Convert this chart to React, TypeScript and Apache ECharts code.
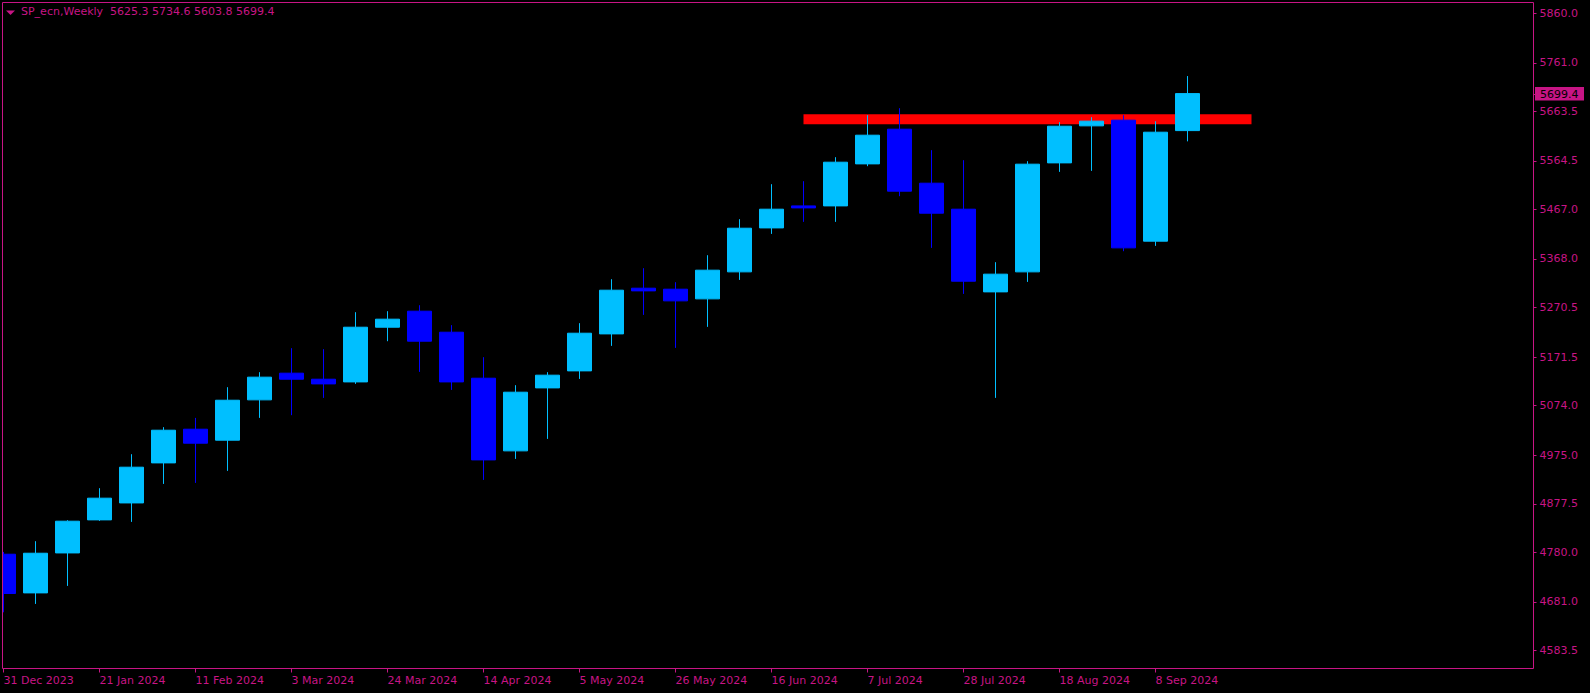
import React, { useEffect, useRef } from "react";
import * as echarts from "echarts";

// ---- data ----
const symbolName = "SP_ecn,Weekly";
const dates = [
  "31 Dec 2023", "7 Jan 2024", "14 Jan 2024", "21 Jan 2024", "28 Jan 2024",
  "4 Feb 2024", "11 Feb 2024", "18 Feb 2024", "25 Feb 2024", "3 Mar 2024",
  "10 Mar 2024", "17 Mar 2024", "24 Mar 2024", "31 Mar 2024", "7 Apr 2024",
  "14 Apr 2024", "21 Apr 2024", "28 Apr 2024", "5 May 2024", "12 May 2024",
  "19 May 2024", "26 May 2024", "2 Jun 2024", "9 Jun 2024", "16 Jun 2024",
  "23 Jun 2024", "30 Jun 2024", "7 Jul 2024", "14 Jul 2024", "21 Jul 2024",
  "28 Jul 2024", "4 Aug 2024", "11 Aug 2024", "18 Aug 2024", "25 Aug 2024",
  "1 Sep 2024", "8 Sep 2024", "15 Sep 2024",
];
const opens = [
  4776.4, 4698.9, 4779.0, 4845.2, 4879.2, 4959.4, 5026.9, 5004.9, 5085.7, 5139.2,
  5127.1, 5121.7, 5231.3, 5263.4, 5221.3, 5129.1, 4983.5, 5109.7, 5143.8, 5217.9,
  5309.5, 5307.5, 5288.1, 5342.2, 5430.3, 5474.4, 5474.4, 5558.6, 5628.1, 5519.9,
  5467.8, 5302.1, 5342.2, 5560.6, 5634.8, 5646.2, 5403.7, 5625.3,
];
const highs = [
  4781.0, 4802.5, 4844.6, 4908.7, 4976.8, 5031.0, 5049.6, 5111.1, 5141.2, 5189.3,
  5187.3, 5261.4, 5263.4, 5275.4, 5235.4, 5171.2, 5115.1, 5141.2, 5239.4, 5327.5,
  5349.6, 5321.5, 5375.6, 5447.8, 5517.9, 5523.9, 5572.0, 5656.2, 5670.2, 5586.1,
  5566.0, 5361.6, 5564.0, 5642.2, 5652.2, 5656.2, 5644.0, 5734.6,
];
const lows = [
  4660.0, 4676.8, 4712.9, 4843.2, 4841.2, 4917.3, 4919.3, 4943.4, 5049.6, 5055.0,
  5089.7, 5117.7, 5203.3, 5141.8, 5105.7, 4925.3, 4967.4, 5007.5, 5127.7, 5193.9,
  5256.0, 5189.9, 5232.0, 5326.1, 5418.3, 5442.4, 5442.4, 5554.0, 5493.9, 5390.3,
  5298.1, 5089.7, 5322.1, 5542.6, 5544.6, 5383.6, 5394.3, 5603.8,
];
const closes = [
  4697.7, 4778.4, 4842.6, 4888.7, 4950.8, 5024.9, 4998.9, 5085.0, 5131.2, 5127.1,
  5117.7, 5231.3, 5247.4, 5203.3, 5121.7, 4965.4, 5101.1, 5135.2, 5219.3, 5305.5,
  5304.1, 5284.1, 5345.6, 5429.7, 5467.8, 5470.4, 5562.0, 5616.1, 5503.9, 5459.8,
  5323.5, 5337.6, 5558.0, 5634.1, 5644.2, 5390.3, 5622.1, 5699.4,
];
const yTicks = [
  5860.0, 5761.0, 5663.5, 5564.5, 5467.0, 5368.0, 5270.5, 5171.5,
  5074.0, 4975.0, 4877.5, 4780.0, 4681.0, 4583.5,
];
const resistanceLevel = 5648.2;
const resistanceFromIdx = 25;
const resistanceToIdx = 39;
const totalSlots = 48;
const yMin = 4547.4;
const yMax = 5882.0;

const MAG = "#C71585";
const BULL = "#00BFFF";
const BEAR = "#0000FF";
const FONT = "'DejaVu Sans', Verdana, sans-serif";
const FS = 11;

export default function App() {
  const ref = useRef<HTMLDivElement>(null);

  useEffect(() => {
    const chart = echarts.init(ref.current!, null, { renderer: "svg" });
    const cats = [
      ...dates,
      ...Array.from({ length: totalSlots - dates.length }, (_, i) => `slot${i + 1}`),
    ];
    const showIdx = (idx: number) => idx % 3 === 0 && idx < dates.length;
    const last = closes.length - 1;
    const titleText = `${symbolName}  ${opens[last].toFixed(1)} ${highs[last].toFixed(1)} ${lows[last].toFixed(1)} ${closes[last].toFixed(1)}`;

    chart.setOption({
      animation: false,
      backgroundColor: "#000000",
      textStyle: { fontFamily: FONT },
      title: {
        text: titleText,
        left: 21,
        top: 6,
        padding: 0,
        textStyle: { color: MAG, fontSize: FS, fontWeight: "normal", fontFamily: FONT },
      },
      grid: { left: 3.5, right: 82.5, top: 2.5, bottom: 24.5, containLabel: false },
      xAxis: {
        type: "category",
        data: cats,
        boundaryGap: false,
        axisLine: { show: false },
        axisTick: {
          show: true,
          length: 4,
          interval: (idx: number) => showIdx(idx),
          lineStyle: { color: MAG, width: 1 },
        },
        axisLabel: {
          interval: (idx: number) => showIdx(idx),
          align: "left",
          color: MAG,
          fontSize: FS,
          fontFamily: FONT,
          margin: 6,
        },
        splitLine: { show: false },
      },
      yAxis: {
        type: "value",
        position: "right",
        offset: 26,
        min: yMin,
        max: yMax,
        axisLine: { show: false },
        axisTick: {
          show: true,
          length: 3,
          customValues: yTicks,
          lineStyle: { color: MAG, width: 1 },
        },
        axisLabel: {
          customValues: yTicks,
          formatter: (v: number) => v.toFixed(1),
          color: MAG,
          fontSize: FS,
          fontFamily: FONT,
          margin: 6,
        },
        splitLine: { show: false },
      },
      series: [
        {
          type: "line",
          data: [
            [resistanceFromIdx, resistanceLevel],
            [resistanceToIdx, resistanceLevel],
          ],
          symbol: "none",
          lineStyle: { color: "#FF0000", width: 10, cap: "butt" },
          z: 1,
          silent: true,
        },
        {
          type: "candlestick",
          data: closes.map((c, i) => [opens[i], c, lows[i], highs[i]]),
          barWidth: 24,
          clip: false,
          z: 2,
          itemStyle: {
            color: BULL,
            color0: BEAR,
            borderColor: BULL,
            borderColor0: BEAR,
            borderWidth: 1,
          },
        },
      ],
    });

    const py = chart.convertToPixel({ yAxisIndex: 0 }, closes[last]) as number;
    chart.setOption({
      graphic: [
        {
          type: "rect",
          z: 90,
          silent: true,
          shape: { x: 0, y: 0, width: 2.5, height: 693 },
          style: { fill: "#000000" },
        },
        {
          type: "rect",
          z: 100,
          silent: true,
          shape: { x: 2.5, y: 2.5, width: 1531, height: 666 },
          style: { fill: "none", stroke: MAG, lineWidth: 1 },
        },
        {
          type: "polygon",
          z: 100,
          silent: true,
          shape: { points: [[6, 10.5], [15, 10.5], [10.5, 15]] },
          style: { fill: MAG },
        },
        {
          type: "line",
          z: 100,
          silent: true,
          shape: { x1: 1533.5, y1: Math.round(py) + 0.5, x2: 1537, y2: Math.round(py) + 0.5 },
          style: { stroke: MAG, lineWidth: 1 },
        },
        {
          type: "rect",
          z: 100,
          silent: true,
          shape: { x: 1535, y: py - 6.5, width: 49, height: 13.5 },
          style: { fill: MAG },
        },
        {
          type: "text",
          z: 101,
          silent: true,
          style: {
            text: closes[last].toFixed(1),
            x: 1540,
            y: py + 0.5,
            verticalAlign: "middle",
            fill: "#000000",
            font: `${FS}px ${FONT}`,
          },
        },
      ],
    });

    return () => chart.dispose();
  }, []);

  return (
    <div
      ref={ref}
      style={{ position: "fixed", left: 0, top: 0, width: 1590, height: 693, background: "#000" }}
    />
  );
}
